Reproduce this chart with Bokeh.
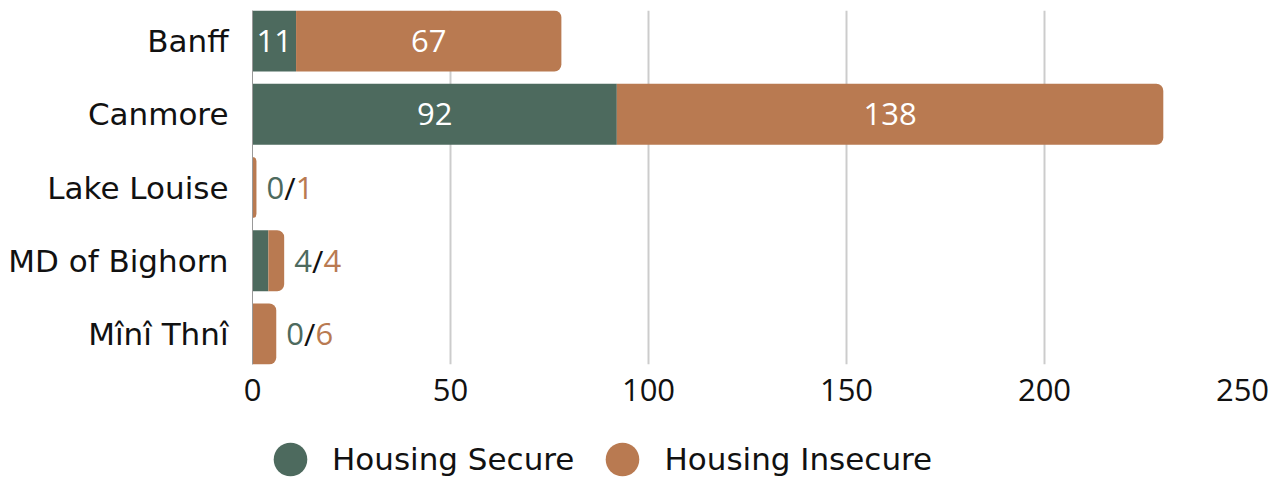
from bokeh.plotting import figure
from bokeh.models import ColumnDataSource, Range1d, FixedTicker, Legend, LegendItem
from bokeh.layouts import column
from bokeh.core.properties import value
from bokeh.embed import file_html
from bokeh.resources import INLINE

# ---- data ----
places = ["Banff", "Canmore", "Lake Louise", "MD of Bighorn", "Mînî Thnî"]
secure = [11, 92, 0, 4, 0]
insecure = [67, 138, 1, 4, 6]
series_names = ["Housing Secure", "Housing Insecure"]
x_ticks = [0, 50, 100, 150, 200, 250]

GREEN = "#4D6A5E"
ORANGE = "#B97A51"
TXT = "#111111"
FONT = "DejaVu Sans"
NFONT = "Open Sans"
FS = "31px"
BAR_H = 0.832

ypos = list(range(len(places)))
totals = [s + i for s, i in zip(secure, insecure)]

src = ColumnDataSource(dict(
    y=ypos,
    sec=secure,
    ins=insecure,
    tot=totals,
    zero=[0] * len(places),
))

p = figure(
    width=1284, height=424,
    x_range=Range1d(0, 250),
    y_range=Range1d(len(places) - 1 + BAR_H / 2, -BAR_H / 2),
    output_backend="svg", toolbar_location=None,
    min_border_left=252, min_border_right=42, min_border_top=10, min_border_bottom=60,
)
p.outline_line_color = None
p.background_fill_color = "white"

p.hbar(y="y", left="zero", right="sec", height=BAR_H, source=src,
       fill_color=GREEN, line_color=None)
p.hbar(y="y", left="sec", right="tot", height=BAR_H, source=src,
       fill_color=ORANGE, line_color=None, border_radius=(0, 7, 7, 0))

# inside labels for large bars
big = [t > 50 for t in totals]
in_x, in_y, in_t = [], [], []
for k in range(len(places)):
    if big[k]:
        if secure[k] > 0:
            in_x.append(secure[k] / 2); in_y.append(ypos[k]); in_t.append(str(secure[k]))
        if insecure[k] > 0:
            in_x.append(secure[k] + insecure[k] / 2); in_y.append(ypos[k]); in_t.append(str(insecure[k]))
p.text(x=in_x, y=in_y, text=in_t, text_color="white", text_align="center",
       text_baseline="middle", text_font=value(NFONT), text_font_size=FS)

# outside labels "s/i" for small bars
DIGIT_W = 17.7
SLASH_W = 11.5
for k in range(len(places)):
    if not big[k]:
        s_txt, i_txt = str(secure[k]), str(insecure[k])
        o0 = 10
        o1 = o0 + DIGIT_W * len(s_txt)
        o2 = o1 + SLASH_W
        for txt, off, col in ((s_txt, o0, GREEN), ("/", o1, TXT), (i_txt, o2, ORANGE)):
            p.text(x=[totals[k]], y=[ypos[k]], text=[txt], x_offset=off, text_color=col,
                   text_align="left", text_baseline="middle",
                   text_font=value(NFONT), text_font_size=FS)

# axes
p.xaxis.ticker = FixedTicker(ticks=x_ticks)
p.xaxis.axis_line_color = None
p.xaxis.major_tick_line_color = None
p.xaxis.major_tick_out = 0
p.xaxis.minor_tick_line_color = None
p.xaxis.major_label_standoff = 14
p.xaxis.major_label_text_font = NFONT
p.xaxis.major_label_text_font_size = FS
p.xaxis.major_label_text_color = TXT

p.yaxis.ticker = FixedTicker(ticks=ypos)
p.yaxis.major_label_overrides = {k: name for k, name in zip(ypos, places)}
p.yaxis.axis_line_color = "#999999"
p.yaxis.major_tick_line_color = None
p.yaxis.major_tick_out = 0
p.yaxis.minor_tick_line_color = None
p.yaxis.major_label_standoff = 24
p.yaxis.major_label_text_font = FONT
p.yaxis.major_label_text_font_size = FS
p.yaxis.major_label_text_color = TXT

p.xgrid.ticker = FixedTicker(ticks=x_ticks)
p.xgrid.grid_line_color = "#cccccc"
p.xgrid.grid_line_width = 2
p.ygrid.grid_line_color = None

# legend in its own strip below (its frame aligns with the main frame)
lg = figure(width=1284, height=53, output_backend="svg", toolbar_location=None,
            x_axis_type=None, y_axis_type=None,
            x_range=Range1d(0, 1), y_range=Range1d(0, 1),
            min_border_left=252, min_border_right=42, min_border_top=0, min_border_bottom=0)
lg.outline_line_color = None
# dummy renderers (kept outside the visible range) so the legend can draw its circles
d_sec = lg.scatter(x=[-10], y=[-10], marker="circle", fill_color=GREEN, line_color=None)
d_ins = lg.scatter(x=[-10], y=[-10], marker="circle", fill_color=ORANGE, line_color=None)
legend = Legend(
    items=[LegendItem(label=series_names[0], renderers=[d_sec]),
           LegendItem(label=series_names[1], renderers=[d_ins])],
    orientation="horizontal", location=(-4, -24),
    glyph_width=84, glyph_height=84, label_standoff=0, spacing=6,
    padding=0, margin=0, border_line_color=None, background_fill_alpha=0,
    label_text_font=FONT, label_text_font_size=FS, label_text_color=TXT,
)
lg.add_layout(legend, "center")

layout = column(p, lg, spacing=0)
open("out.html", "w").write(file_html(layout, INLINE))
